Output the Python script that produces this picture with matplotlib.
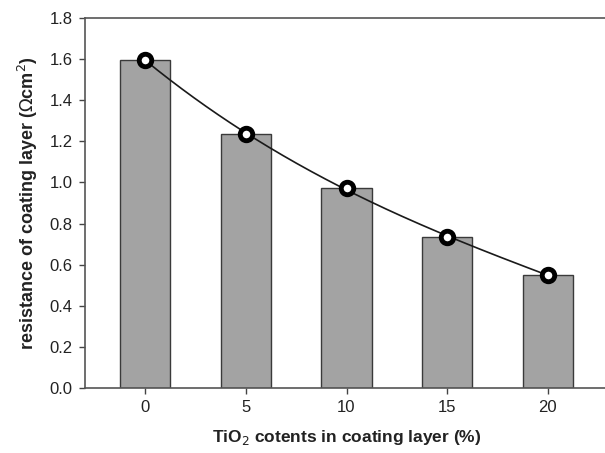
import numpy as np
import matplotlib
matplotlib.use('Agg')
import matplotlib.pyplot as plt

plt.rcParams['font.family'] = ['Liberation Sans', 'DejaVu Sans']

# data
tio2 = [0, 5, 10, 15, 20]
resistance = [1.595, 1.235, 0.972, 0.735, 0.55]
yticks = [0.0, 0.2, 0.4, 0.6, 0.8, 1.0, 1.2, 1.4, 1.6, 1.8]

fig = plt.figure(figsize=(6.05, 4.53), dpi=100)
ax = fig.add_axes([85/605, 65/453, 523/605, 370/453])

ax.bar(tio2, resistance, width=2.5, color='#a3a3a3', edgecolor='#3a3a3a',
       linewidth=1.0, zorder=2)

# smooth curve through the points
coef = np.polyfit(tio2, resistance, 3)
xs = np.linspace(tio2[0], tio2[-1], 200)
ax.plot(xs, np.polyval(coef, xs), color='#1a1a1a', lw=1.2, zorder=3)
ax.plot(tio2, resistance, 'o', ms=9, mfc='white', mec='black', mew=3.5, zorder=4)

ax.set_xlim(-3, 23)
ax.set_ylim(0, 1.8)
ax.set_xticks(tio2)
ax.set_yticks(yticks)
ax.set_yticklabels(['%.1f' % v for v in yticks])
ax.tick_params(direction='out', length=4, width=1, color='#444444',
               labelsize=12, pad=5, labelcolor='#222222')

for s in ax.spines.values():
    s.set_color('#555555')
    s.set_linewidth(1.2)

ax.set_xlabel('TiO$_2$ cotents in coating layer (%)', fontsize=12.5,
              fontweight='bold', labelpad=9, color='#222222')
ax.set_ylabel(r'resistance of coating layer ($\Omega$cm$^2$)', fontsize=13,
              fontweight='bold', labelpad=7, color='#222222')

fig.savefig('out.png', dpi=100)
